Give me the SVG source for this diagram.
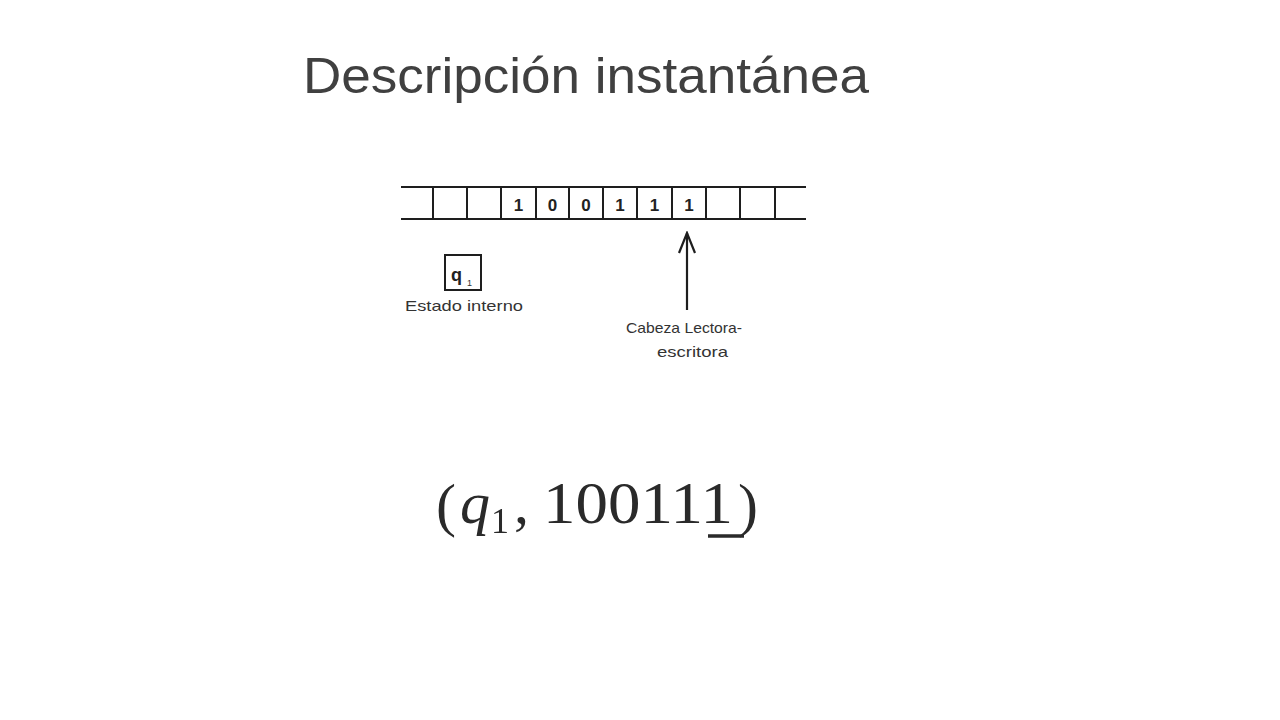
<svg xmlns="http://www.w3.org/2000/svg" width="1280" height="720" viewBox="0 0 1280 720">
  <style>
    .title { font-family: "Liberation Sans", Arial, sans-serif; font-size: 50px; fill: #404040; }
    .tape { stroke: #1e1e1e; stroke-width: 2; fill: none; }
    .digit { font-family: "Liberation Sans", Arial, sans-serif; font-size: 17px; font-weight: bold; fill: #222; text-anchor: middle; }
    .label { font-family: "Liberation Sans", Arial, sans-serif; font-size: 15px; fill: #333; }
    .math { font-family: "Liberation Serif", "Times New Roman", serif; font-size: 60px; fill: #2a2a2a; }
  </style>
  <defs>
    <filter id="soft" x="-5%" y="-5%" width="110%" height="110%">
      <feGaussianBlur stdDeviation="0.7"/>
    </filter>
    <!-- open V head, drawn pointing along +x so orient="auto" turns it with the line -->
    <marker id="openHead" viewBox="0 0 24 20" refX="22" refY="10" markerWidth="24" markerHeight="20" markerUnits="userSpaceOnUse" orient="auto">
      <path d="M2,2 L22,10 L2,18" fill="none" stroke="#1e1e1e" stroke-width="2.2"/>
    </marker>
  </defs>

  <rect width="1280" height="720" fill="#ffffff"/>

  <text class="title" x="303" y="93" textLength="566" lengthAdjust="spacingAndGlyphs">Descripción instantánea</text>

  <!-- tape -->
  <g id="tape">
    <line class="tape" x1="401" y1="187" x2="806" y2="187"/>
    <line class="tape" x1="401" y1="219" x2="806" y2="219"/>
    <line class="tape" x1="433" y1="187" x2="433" y2="219"/>
    <line class="tape" x1="467" y1="187" x2="467" y2="219"/>
    <line class="tape" x1="501" y1="187" x2="501" y2="219"/>
    <line class="tape" x1="536" y1="187" x2="536" y2="219"/>
    <line class="tape" x1="569" y1="187" x2="569" y2="219"/>
    <line class="tape" x1="603" y1="187" x2="603" y2="219"/>
    <line class="tape" x1="637" y1="187" x2="637" y2="219"/>
    <line class="tape" x1="672" y1="187" x2="672" y2="219"/>
    <line class="tape" x1="706" y1="187" x2="706" y2="219"/>
    <line class="tape" x1="740" y1="187" x2="740" y2="219"/>
    <line class="tape" x1="775" y1="187" x2="775" y2="219"/>
    <text class="digit" x="518.5" y="211">1</text>
    <text class="digit" x="552.5" y="211">0</text>
    <text class="digit" x="586" y="211">0</text>
    <text class="digit" x="620" y="211">1</text>
    <text class="digit" x="654.5" y="211">1</text>
    <text class="digit" x="689" y="211">1</text>
  </g>

  <!-- internal state -->
  <g id="state">
    <rect x="445" y="255" width="36" height="35" fill="none" stroke="#1e1e1e" stroke-width="2"/>
    <text x="451" y="281" font-family="Liberation Sans, Arial, sans-serif" font-size="18" font-weight="bold" fill="#222">q<tspan font-size="9" font-weight="normal" fill="#333" dx="5" dy="5">1</tspan></text>
    <text class="label" x="405" y="311" textLength="118" lengthAdjust="spacingAndGlyphs">Estado interno</text>
  </g>

  <!-- read/write head -->
  <g id="connectors">
    <line x1="687" y1="310" x2="687" y2="233" stroke="#1e1e1e" stroke-width="2.2" marker-end="url(#openHead)"/>
  </g>
  <g id="head">
    <text class="label" x="626" y="333" textLength="116" lengthAdjust="spacingAndGlyphs">Cabeza Lectora-</text>
    <text class="label" x="657" y="357" textLength="71" lengthAdjust="spacingAndGlyphs">escritora</text>
  </g>

  <!-- configuration tuple -->
  <g id="tuple" filter="url(#soft)">
    <text class="math" x="436" y="525">(</text>
    <text class="math" x="460" y="523"><tspan font-style="italic">q</tspan><tspan font-size="36" dx="1" dy="10">1</tspan><tspan dx="5" dy="-10">,</tspan></text>
    <text class="math" x="543" y="523" textLength="190" lengthAdjust="spacingAndGlyphs">100111</text>
    <text class="math" x="738" y="525">)</text>
    <line x1="708" y1="536" x2="744" y2="536" stroke="#2a2a2a" stroke-width="3.5"/>
  </g>
</svg>
